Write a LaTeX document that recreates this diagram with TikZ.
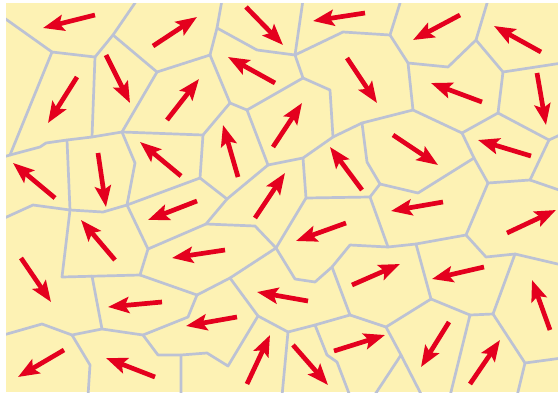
\documentclass[tikz,border=0pt]{standalone}
\usetikzlibrary{arrows.meta}
\definecolor{bgyellow}{RGB}{253,242,180}
\definecolor{edgegray}{RGB}{188,194,212}
\definecolor{arrowred}{RGB}{228,0,30}
\tikzset{
  celledge/.style={draw=edgegray, line width=2.7pt, line join=round, line cap=round},
  vec/.style={draw=arrowred, line width=4.7pt, -{Stealth[length=21pt,width=16pt,inset=4pt]}},
}
\begin{document}
\begin{tikzpicture}[x=1pt,y=-1pt]
\useasboundingbox (0,0) rectangle (558,392);
\fill[bgyellow] (6,3) rectangle (558,392);
% vertices
\coordinate (A) at (52,52);   \coordinate (B) at (95,57);   \coordinate (D) at (113,35);
\coordinate (C) at (157,72);  \coordinate (E) at (122,132); \coordinate (F) at (92,137);
\coordinate (G) at (10,155);  \coordinate (H) at (67,140);  \coordinate (J) at (210,55);
\coordinate (I) at (217,28);  \coordinate (K) at (295,55);  \coordinate (L) at (303,78);
\coordinate (M) at (333,137); \coordinate (N) at (247,110); \coordinate (O) at (230,103);
\coordinate (P) at (203,135); \coordinate (Q) at (200,178); \coordinate (R) at (268,165);
\coordinate (S) at (303,158); \coordinate (MY) at (362,123);\coordinate (T) at (390,35);
\coordinate (U) at (408,63);  \coordinate (V) at (476,40);  \coordinate (W) at (503,72);
\coordinate (X) at (498,113); \coordinate (Y) at (413,110); \coordinate (Z) at (462,133);
\coordinate (AA) at (549,140);\coordinate (AB) at (530,180);\coordinate (AC) at (488,183);
\coordinate (AD) at (474,158);\coordinate (EA) at (370,197);\coordinate (EB) at (380,184);
\coordinate (EC) at (388,247);\coordinate (CD) at (306,198);\coordinate (VQR) at (227,199);
\coordinate (CA) at (206,224);\coordinate (CB) at (255,226);\coordinate (CC) at (276,248);
\coordinate (CE) at (230,278);\coordinate (CF) at (197,295);\coordinate (CG) at (258,316);
\coordinate (CH) at (288,332);\coordinate (CI) at (228,366);\coordinate (CJ) at (350,315);
\coordinate (CK) at (332,267);\coordinate (CL) at (350,245);\coordinate (DA) at (466,235);
\coordinate (DB) at (416,244);\coordinate (DC) at (431,299);\coordinate (DD) at (515,254);
\coordinate (DE) at (493,314);\coordinate (DF) at (470,315);\coordinate (DG) at (386,327);
\coordinate (DH) at (401,355);\coordinate (DI) at (525,363);\coordinate (HJ) at (315,325);
\coordinate (BA) at (70,210); \coordinate (BC) at (127,205);\coordinate (BD) at (148,249);
\coordinate (BE) at (140,275);\coordinate (BF) at (62,277); \coordinate (BG) at (102,329);
\coordinate (BH) at (72,335); \coordinate (BI) at (143,335);\coordinate (BJ) at (158,355);
\coordinate (BK) at (181,355);\coordinate (BT) at (92,276);
\begin{scope}
\clip (6,3) rectangle (558,392);
\begin{scope}[celledge]
\draw (0,15) -- (A) -- (B) -- (D) -- (137,0);
\draw (D) -- (C) -- (J) -- (I) -- (222,0);
\draw (C) -- (E) -- (F) -- (B);
\draw (A) -- (G) -- (0,158);
\draw (G) -- (40,147) -- (46,143) -- (H) -- (F);
\draw (H) -- (BA) -- (33,205) -- (0,220);
\draw (E) -- (P) -- (O) -- (J);
\draw (E) -- (135,163) -- (BC) -- (103,212) -- (BA);
\draw (BC) -- (Q) -- (P);
\draw (I) -- (257,50) -- (K) -- (303,0);
\draw (K) -- (343,32) -- (T) -- (401,0);
\draw (K) -- (L) -- (330,90) -- (M) -- (MY) -- (Y) -- (U) -- (T);
\draw (L) -- (N) -- (O);
\draw (N) -- (R) -- (S) -- (M);
\draw (Q) -- (VQR) -- (R);
\draw (VQR) -- (CA) -- (CB) -- (CC) -- (CD) -- (S);
\draw (MY) -- (367,162) -- (EB) -- (EA) -- (CD);
\draw (U) -- (448,67) -- (V) -- (488,0);
\draw (V) -- (W) -- (562,63);
\draw (W) -- (X) -- (Z) -- (Y);
\draw (X) -- (AA) -- (562,134);
\draw (AA) -- (AB) -- (AC) -- (AD) -- (Z);
\draw (AB) -- (562,191);
\draw (AD) -- (418,193) -- (EB);
\draw (AC) -- (DA) -- (DB) -- (EC) -- (EA);
\draw (EC) -- (CL) -- (CK) -- (315,282) -- (295,279) -- (CC);
\draw (CK) -- (CJ) -- (HJ) -- (CH) -- (CG) -- (CE) -- (CC);
\draw (HJ) -- (327,355) -- (337,362) -- (350,396);
\draw (CH) -- (282,396);
\draw (CG) -- (CI) -- (207,353) -- (BK) -- (181,396);
\draw (BK) -- (BJ) -- (BI) -- (BG) -- (BH) -- (42,324) -- (0,336);
\draw (BH) -- (90,365) -- (88,396);
\draw (BG) -- (BT);
\draw (BA) -- (BF) -- (BE) -- (BD) -- (BC);
\draw (BD) -- (CA);
\draw (BE) -- (CF) -- (CE);
\draw (CF) -- (188,317) -- (BI);
\draw (DB) -- (DC) -- (DG) -- (CJ);
\draw (DG) -- (DH) -- (374,396);
\draw (DH) -- (422,396);
\draw (DA) -- (486,257) -- (DD) -- (562,265);
\draw (DD) -- (DE) -- (DF) -- (DC);
\draw (DF) -- (450,396);
\draw (DE) -- (DI) -- (562,358);
\draw (DI) -- (517,396);
\end{scope}
\end{scope}
% arrows
\draw[vec] (95,15) -- (43,28);
\draw[vec] (153,46) -- (197,17);
\draw[vec] (77,77) -- (48,123);
\draw[vec] (106,55) -- (130,103);
\draw[vec] (167,120) -- (199,79);
\draw[vec] (181,176) -- (140,142);
\draw[vec] (98,153) -- (106,207);
\draw[vec] (55,198) -- (13,163);
\draw[vec] (246,7) -- (283,45);
\draw[vec] (365,13) -- (313,21);
\draw[vec] (275,83) -- (228,57);
\draw[vec] (347,58) -- (377,103);
\draw[vec] (273,147) -- (302,103);
\draw[vec] (238,177) -- (223,125);
\draw[vec] (362,190) -- (330,147);
\draw[vec] (255,218) -- (285,173);
\draw[vec] (460,15) -- (413,40);
\draw[vec] (541,52) -- (494,26);
\draw[vec] (537,73) -- (546,125);
\draw[vec] (482,102) -- (431,83);
\draw[vec] (393,135) -- (438,165);
\draw[vec] (531,156) -- (478,140);
\draw[vec] (443,202) -- (391,211);
\draw[vec] (507,233) -- (556,210);
\draw[vec] (484,267) -- (432,279);
\draw[vec] (352,285) -- (400,264);
\draw[vec] (550,330) -- (532,280);
\draw[vec] (449,322) -- (421,367);
\draw[vec] (470,384) -- (500,340);
\draw[vec] (334,351) -- (385,335);
\draw[vec] (293,345) -- (328,385);
\draw[vec] (247,384) -- (270,335);
\draw[vec] (308,301) -- (257,292);
\draw[vec] (237,317) -- (186,326);
\draw[vec] (225,250) -- (172,258);
\draw[vec] (346,223) -- (296,241);
\draw[vec] (197,201) -- (148,220);
\draw[vec] (115,260) -- (81,220);
\draw[vec] (21,258) -- (51,302);
\draw[vec] (162,302) -- (108,307);
\draw[vec] (64,350) -- (18,377);
\draw[vec] (155,377) -- (106,358);
\end{tikzpicture}
\end{document}
